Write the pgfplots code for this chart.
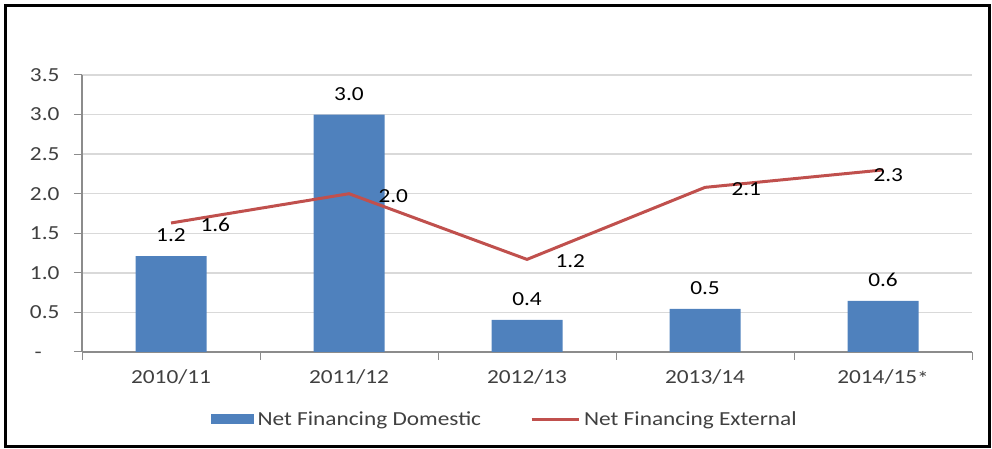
\documentclass[border=0pt]{standalone}
\usepackage{pgfplots}
\pgfplotsset{compat=1.18}
\usepackage{pgfplotstable}
\usepackage{fontspec}
\setmainfont{Carlito}[FakeStretch=1.17]
\definecolor{barblue}{HTML}{4F81BD}
\definecolor{linered}{HTML}{C0504D}
\definecolor{gridgray}{HTML}{D9D9D9}
\definecolor{axgray}{HTML}{8C8C8C}
\definecolor{txtgray}{HTML}{404040}

\pgfplotstableread{
x y
0 1.21
1 3.00
2 0.405
3 0.545
4 0.645
}\domestic

\pgfplotstableread{
x y dx dy
0 1.63 28 -2
1 2.00 28 -2
2 1.17 27 -2
3 2.08 25 -2
4 2.30 -11 -5
}\external

\begin{document}
\begin{tikzpicture}[x=1bp,y=1bp]
\path (0,0) rectangle (992,449);
\begin{axis}[
  at={(82bp,97bp)}, anchor=south west,
  scale only axis, width=890bp, height=277bp,
  font=\fontsize{20}{23}\selectfont,
  /pgf/number format/assume math mode=true,
  xmin=-0.5, xmax=4.5, ymin=0, ymax=3.5,
  axis x line*=bottom, axis y line*=left,
  axis line style={axgray, line width=1.2bp},
  xtick={-0.5,0.5,1.5,2.5,3.5,4.5},
  xticklabels={},
  extra x ticks={0,1,2,3,4},
  extra x tick labels={2010/11,2011/12,2012/13,2013/14,2014/15\raisebox{-2bp}{*}},
  extra x tick style={major tick length=0pt, tick style={draw=none}},
  ytick={0,0.5,1,1.5,2,2.5,3,3.5},
  yticklabels={-\phantom{.5},0.5,1.0,1.5,2.0,2.5,3.0,3.5},
  tick align=outside,
  major tick length=8bp,
  tick style={draw=axgray, line width=1bp},
  ymajorgrids,
  major grid style={gridgray, line width=1.5bp},
  xticklabel style={text=txtgray, yshift=-14bp},
  yticklabel style={text=txtgray, xshift=-11bp},
  legend style={at={(0.476,-0.242)}, anchor=center, draw=none, fill=none,
    legend columns=2, font=\fontsize{20}{23}\selectfont\color{txtgray},
    /tikz/every even column/.append style={column sep=45bp},
    nodes={inner xsep=4bp},
    inner sep=0pt},
  legend cell align=left,
  clip=false,
]
\addplot[ybar, bar width=71bp, fill=barblue, draw=none,
  nodes near coords,
  nodes near coords style={anchor=south, inner sep=0pt, yshift=14bp, text=black,
    /pgf/number format/.cd, fixed, fixed zerofill, precision=1},
  legend image code/.code={\fill[barblue] (0bp,-5bp) rectangle (43bp,5bp);}
] table[x=x,y=y] {\domestic};
\addlegendentry{Net Financing Domestic}
\addplot[linered, line width=3bp, mark=none,
  visualization depends on={\thisrow{dx} \as \dx},
  visualization depends on={\thisrow{dy} \as \dy},
  nodes near coords,
  every node near coord/.append style={anchor=west, inner sep=0pt,
    xshift=\dx bp, yshift=\dy bp, text=black,
    /pgf/number format/.cd, fixed, fixed zerofill, precision=1},
  legend image code/.code={\draw[linered, line width=3bp] (0bp,0bp) -- (47bp,0bp);}
] table[x=x,y=y] {\external};
\addlegendentry{Net Financing External}
\end{axis}
\draw[line width=3bp, black] (5.5,2) rectangle (989.5,443.5);
\end{tikzpicture}
\end{document}
